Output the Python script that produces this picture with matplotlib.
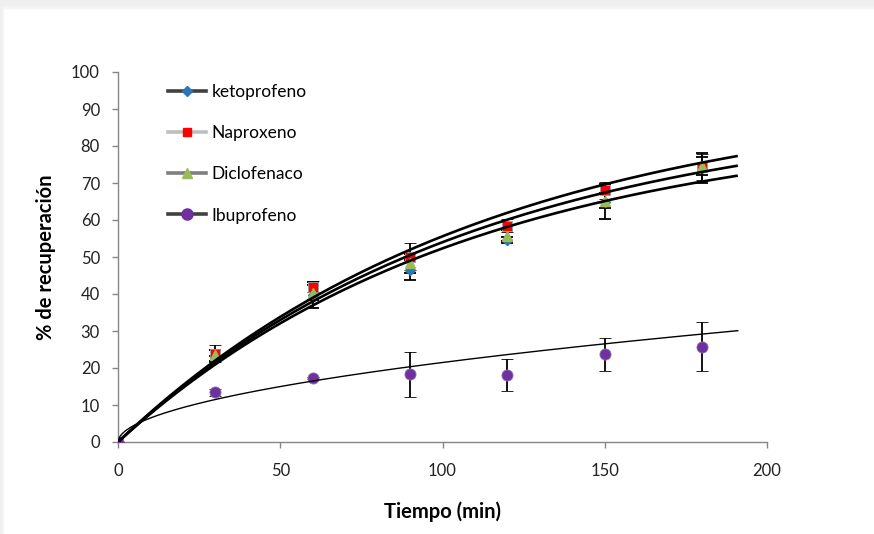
import matplotlib

matplotlib.use("Agg")
import matplotlib.pyplot as plt  # noqa: E402
import numpy as np  # noqa: E402
from matplotlib.lines import Line2D  # noqa: E402
from matplotlib.patches import Rectangle  # noqa: E402

plt.rcParams["font.family"] = ["Lato", "DejaVu Sans"]

# sampling times (min)
tiempo = [0, 30, 60, 90, 120, 150, 180]

# % recovery, with error bars
keto = [0, 22.4, 39.7, 46.5, 54.6, 65.0, 74.0]
keto_err = [0, 0.8, 3.5, 2.7, 0.9, 4.6, 4.1]
napro = [0, 23.9, 42.0, 50.1, 58.5, 68.1, 74.3]
napro_err = [0, 2.3, 1.5, 3.6, 1.8, 2.3, 3.5]
diclo = [0, 23.5, 40.4, 48.3, 55.8, 65.2, 74.6]
diclo_err = [0, 1.5, 2.0, 2.5, 1.5, 2.0, 2.5]
ibu = [0, 13.4, 17.2, 18.3, 18.1, 23.7, 25.8]
ibu_err = [0, 1.0, 0.3, 6.1, 4.2, 4.5, 6.6]

# trendline parameters: y = A (1 - exp(-k t)) and y = a t^b
sat_fits = [(95.0, 0.0088), (91.0, 0.0090), (87.0, 0.0092)]
ibu_fit = (1.96, 0.52)
T_END = 191

INK = "#000000"
AXIS = "#868686"

fig = plt.figure(figsize=(8.74, 5.34), dpi=100)
fig.patch.set_facecolor("#efefef")
W, H = 874, 534
# white panel with a soft shadow along the top and left edges
for i, c in enumerate(["#f3f3f3", "#f7f7f7", "#fbfbfb"]):
    fig.patches.append(Rectangle(((2 + i) / W, 0), 1, (H - 6 - i * 1.5) / H,
                                 transform=fig.transFigure, color=c, zorder=-5))
fig.patches.append(Rectangle((5 / W, 0), 1, (H - 10) / H,
                             transform=fig.transFigure, color="white", zorder=-4))

ax = fig.add_axes([118 / W, 1 - 442 / H, (767 - 118) / W, (442 - 72) / H])
ax.set_facecolor("none")

ax.errorbar(tiempo, keto, yerr=keto_err, fmt="D", color="#2e75b6", ms=5.5,
            mec="#2e75b6", ecolor=INK, elinewidth=1.3, capsize=4.5, capthick=1.3, zorder=3)
ax.errorbar(tiempo, napro, yerr=napro_err, fmt="s", color="#ff0000", ms=6.5,
            mec="#a0a0a0", mew=0.6, ecolor=INK, elinewidth=1.3, capsize=4.5, capthick=1.3,
            zorder=3)
ax.errorbar(tiempo, diclo, yerr=diclo_err, fmt="^", color="#9bbb59", ms=6.5,
            mec="#9bbb59", ecolor=INK, elinewidth=1.3, capsize=4.5, capthick=1.3, zorder=3)
ax.errorbar(tiempo, ibu, yerr=ibu_err, fmt="o", color="#7030a0", ms=8,
            mec="#8a70a8", mew=0.6, ecolor=INK, elinewidth=1.3, capsize=4.5, capthick=1.3,
            zorder=3)

t = np.linspace(0, T_END, 300)
for A, k in sat_fits:
    ax.plot(t, A * (1 - np.exp(-k * t)), color=INK, lw=1.9, zorder=4, solid_capstyle="butt")
ax.plot(t, ibu_fit[0] * t ** ibu_fit[1], color=INK, lw=1.0, zorder=4)

ax.set_xlim(0, 200)
ax.set_ylim(0, 100)
ax.set_xticks(np.arange(0, 201, 50))
ax.set_yticks(np.arange(0, 101, 10))
for s in ("top", "right"):
    ax.spines[s].set_visible(False)
for s in ("left", "bottom"):
    ax.spines[s].set_color(AXIS)
    ax.spines[s].set_linewidth(1.0)
ax.tick_params(axis="both", direction="out", length=4, width=1.0, color=AXIS,
               labelsize=12, labelcolor="#222222")
ax.tick_params(axis="x", pad=11)
ax.tick_params(axis="y", pad=9)
ax.set_xlabel("Tiempo (min)", fontsize=14.5, fontweight="bold", labelpad=16)
ax.set_ylabel("% de recuperación", fontsize=14.5, fontweight="bold", labelpad=11)

handles = [
    Line2D([], [], color="#404040", lw=2.6, marker="D", ms=5, mfc="#2e75b6", mec="#2e75b6"),
    Line2D([], [], color="#bfbfbf", lw=2.6, marker="s", ms=6, mfc="#ff0000", mec="#ff0000"),
    Line2D([], [], color="#7f7f7f", lw=2.6, marker="^", ms=6.5, mfc="#9bbb59", mec="#9bbb59"),
    Line2D([], [], color="#404040", lw=2.6, marker="o", ms=8, mfc="#7030a0", mec="#7030a0"),
]
labels = ["ketoprofeno", "Naproxeno", "Diclofenaco", "Ibuprofeno"]
ax.legend(handles, labels, loc="upper left", bbox_to_anchor=(168 / W, 1 - 84 / H),
          bbox_transform=fig.transFigure, frameon=False, fontsize=12.5, numpoints=1,
          handlelength=2.2, handletextpad=0.3, labelspacing=1.45, borderpad=0,
          borderaxespad=0)

fig.savefig("out.png", dpi=100)
